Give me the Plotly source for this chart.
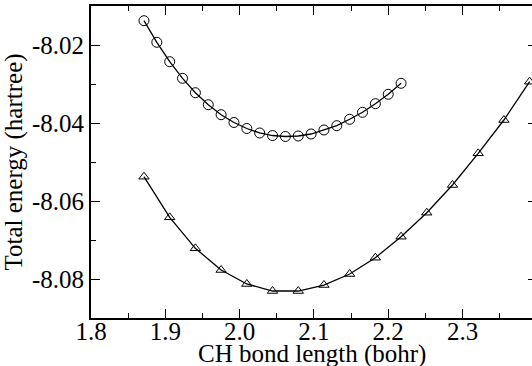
import plotly.graph_objects as go

# Data
circle_x = [1.8713, 1.8886, 1.9059, 1.9232, 1.9405, 1.9578, 1.9751, 1.9924, 2.0097, 2.0270,
            2.0443, 2.0616, 2.0789, 2.0962, 2.1135, 2.1308, 2.1481, 2.1654, 2.1827, 2.2000, 2.2173]
circle_y = [-8.01377, -8.01931, -8.02428, -8.02854, -8.03223, -8.03531, -8.03787, -8.03987,
            -8.04141, -8.04256, -8.04321, -8.04346, -8.04333, -8.04282, -8.04179, -8.04069,
            -8.03905, -8.03726, -8.03505, -8.03264, -8.02982]

tri_x = [1.8713, 1.9059, 1.9405, 1.9751, 2.0097, 2.0443, 2.0789, 2.1135,
         2.1481, 2.1827, 2.2173, 2.2519, 2.2865, 2.3211, 2.3557, 2.3903]
tri_y = [-8.05377, -8.06418, -8.07213, -8.07769, -8.08128, -8.08308, -8.08308, -8.08154,
         -8.07872, -8.07454, -8.06915, -8.06300, -8.05590, -8.04777, -8.03923, -8.02941]

x_ticks = [1.8, 1.9, 2.0, 2.1, 2.2, 2.3]
x_ticktext = ["1.8", "1.9", "2.0", "2.1", "2.2", "2.3"]
y_ticks = [-8.08, -8.06, -8.04, -8.02]
y_ticktext = ["-8.08", "-8.06", "-8.04", "-8.02"]

x_title = "CH bond length (bohr)"
y_title = "Total energy (hartree)"

x_range = [1.8, 2.3935]
y_range = [-8.09, -8.01]

FONT = "Liberation Serif, Times New Roman, serif"
FS = 25

fig = go.Figure()
fig.add_trace(go.Scatter(x=circle_x, y=circle_y, mode="lines+markers",
                         line=dict(color="black", width=1.3),
                         marker=dict(symbol="circle-open", size=10, color="black",
                                     line=dict(width=1, color="black")),
                         showlegend=False))
fig.add_trace(go.Scatter(x=tri_x, y=tri_y, mode="lines+markers",
                         line=dict(color="black", width=1.3),
                         marker=dict(symbol="triangle-up-open", size=9, color="black",
                                     line=dict(width=1, color="black")),
                         showlegend=False))
fig.add_trace(go.Scatter(x=[], y=[], yaxis="y2", showlegend=False))

fig.update_layout(
    template="none",
    width=532, height=366,
    margin=dict(l=91, r=0, t=6, b=48),
    paper_bgcolor="white", plot_bgcolor="white",
    font=dict(family=FONT, size=FS, color="black"),
    xaxis=dict(range=x_range, tickvals=x_ticks, ticktext=x_ticktext,
               ticks="inside", ticklen=9, tickwidth=1, tickcolor="black",
               showline=True, linecolor="black", linewidth=2, mirror="ticks",
               showgrid=False, zeroline=False, ticklabelstandoff=-10,
               minor=dict(tickmode="linear", tick0=1.8, dtick=0.05, ticks="inside",
                          ticklen=5, tickcolor="black", tickwidth=1, showgrid=False),
               tickfont=dict(family=FONT, size=FS, color="black")),
    yaxis=dict(range=y_range, tickvals=y_ticks, ticktext=y_ticktext,
               ticks="inside", ticklen=9, tickwidth=1, tickcolor="black",
               showline=True, linecolor="black", linewidth=2, mirror=False,
               showgrid=False, zeroline=False,
               minor=dict(tickmode="linear", tick0=-8.09, dtick=0.01, ticks="inside",
                          ticklen=5, tickcolor="black", tickwidth=1, showgrid=False),
               title=dict(text=y_title, standoff=2,
                          font=dict(family=FONT, size=FS, color="black")),
               tickfont=dict(family=FONT, size=FS, color="black")),
    yaxis2=dict(range=y_range, overlaying="y", side="right", tickvals=y_ticks,
                ticks="inside", ticklen=4, tickwidth=1, tickcolor="black",
                showticklabels=False, showline=False, showgrid=False, zeroline=False),
    annotations=[dict(text=x_title, xref="paper", yref="paper", x=0.5, y=-0.116,
                      xanchor="center", yanchor="middle", showarrow=False,
                      font=dict(family=FONT, size=FS, color="black"))],
)

fig.write_html("out.html")
